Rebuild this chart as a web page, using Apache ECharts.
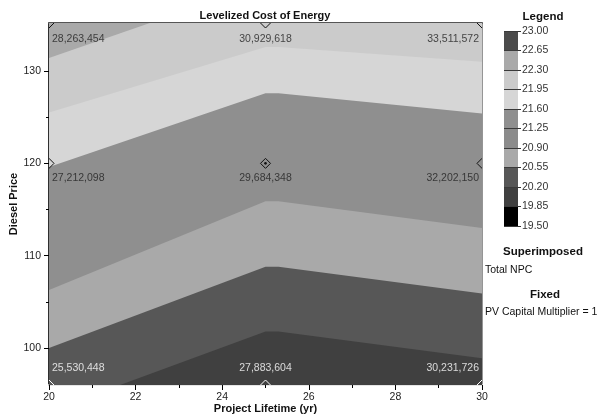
<!DOCTYPE html>
<html><head><meta charset="utf-8">
<script src="https://cdn.jsdelivr.net/npm/echarts@6/dist/echarts.min.js"></script>
<style>html,body{margin:0;padding:0;background:#fff}#c{width:603px;height:414px}</style>
</head><body><div id="c"></div>
<script>
const FONT = '"Liberation Sans", Arial, Helvetica, sans-serif';

// Sensitivity grid
const lifetimeYears = [20, 25, 30];
const dieselPrices = [96, 120, 135.2];
// Total NPC, rows follow dieselPrices (bottom -> top), columns follow lifetimeYears
const npcAt96 = [25530448, 27883604, 30231726];
const npcAt120 = [27212098, 29684348, 32202150];
const npcAt135 = [28263454, 30929618, 33511572];

// Axis ticks
const xTickLabels = [20, 22, 24, 26, 28, 30];
const yTickLabels = [100, 110, 120, 130];
const yMinorTicks = [105, 115, 125];

// Levelized cost of energy legend
const legendLevels = [19.5, 19.85, 20.2, 20.55, 20.9, 21.25, 21.6, 21.95, 22.3, 22.65, 23.0];
const legendColors = ['#000000', '#404040', '#575757', '#a9a9a9', '#8b8b8b', '#8f8f8f', '#d6d6d6', '#cbcbcb', '#a9a9a9', '#4b4b4b'];

// Contour boundaries: [lifetime, diesel price]
const contourTop = [[20, 135.2], [30, 135.2]];                                   // 22.30-22.65 region
const contour2230 = [[20, 131.4], [22.33, 135.2], [30, 135.2]];                  // below: 21.95-22.30
const contour2195 = [[20, 125.5], [25, 132.6], [25.3, 132.6], [30, 131.0]];      // below: 21.60-21.95
const contour2160 = [[20, 119.6], [25, 127.6], [25.3, 127.6], [30, 125.4]];      // below: 20.90-21.60
const contour2090 = [[20, 106.3], [25, 115.9], [25.3, 115.9], [30, 113.0]];      // below: 20.55-20.90
const contour2055 = [[20, 100.0], [25, 108.8], [25.3, 108.8], [30, 105.9]];      // below: 20.20-20.55
const contour2020 = [[21.64, 96], [25, 101.8], [25.3, 101.8], [30, 98.9]];       // below: 19.85-20.20

const contourBands = [
  { data: contourTop, band: 8 },
  { data: contour2230, band: 7 },
  { data: contour2195, band: 6 },
  { data: contour2160, band: 5 },
  { data: contour2090, band: 3 },
  { data: contour2055, band: 2 },
  { data: contour2020, band: 1 }
];

const npcRows = [npcAt96, npcAt120, npcAt135];

const markerData = [];
const labelData = [];
dieselPrices.forEach((p, r) => {
  lifetimeYears.forEach((yr, c) => {
    markerData.push([yr, p, r, c]);
    labelData.push({
      value: [yr, p],
      label: {
        formatter: npcRows[r][c].toLocaleString('en-US'),
        align: c === 0 ? 'left' : (c === 2 ? 'right' : 'center'),
        offset: [c === 0 ? 3 : (c === 2 ? -3 : 0), r === 0 ? -17 : (r === 1 ? 15 : 16)],
        color: r === 0 ? '#ffffff' : '#222222'
      }
    });
  });
});

const series = [];
contourBands.forEach(b => {
  series.push({
    type: 'line', xAxisIndex: 0, yAxisIndex: 0, data: b.data,
    symbol: 'none', showSymbol: false, silent: true, z: 1,
    lineStyle: { width: 0, opacity: 0 },
    areaStyle: { color: legendColors[b.band], opacity: 1, origin: 'start' }
  });
});
series.push({
  type: 'custom', xAxisIndex: 0, yAxisIndex: 0, clip: true, z: 5, silent: true,
  data: markerData,
  renderItem: function (params, api) {
    const pt = api.coord([api.value(0), api.value(1)]);
    const row = api.value(2), col = api.value(3);
    const stroke = row === 0 ? '#ffffff' : '#111111';
    const s = 5;
    const children = [{
      type: 'polygon',
      shape: { points: [[pt[0], pt[1] - s], [pt[0] + s, pt[1]], [pt[0], pt[1] + s], [pt[0] - s, pt[1]]] },
      style: { fill: 'none', stroke: stroke, lineWidth: 1 }
    }];
    if (row === 1 && col === 1) {
      children.push({ type: 'circle', shape: { cx: pt[0], cy: pt[1], r: 1.3 }, style: { fill: stroke } });
    }
    return { type: 'group', children: children };
  }
});
series.push({
  type: 'scatter', xAxisIndex: 0, yAxisIndex: 0, symbolSize: 1, z: 6, silent: true,
  itemStyle: { color: 'rgba(0,0,0,0)' },
  label: { show: true, position: 'inside', fontSize: 10.5, fontFamily: FONT },
  data: labelData
});
legendColors.forEach((c, i) => {
  series.push({
    type: 'bar', xAxisIndex: 2, yAxisIndex: 3, stack: 'legend', barWidth: '100%', silent: true,
    itemStyle: { color: c },
    data: [i === 0 ? legendLevels[1] : +(legendLevels[i + 1] - legendLevels[i]).toFixed(2)]
  });
});

const txt = (text, x, y, size, bold, align) => ({
  type: 'text', x: x, y: y, silent: true,
  style: {
    text: text, fill: '#111', font: (bold ? 'bold ' : '') + size + 'px ' + FONT,
    textAlign: align, align: align, textVerticalAlign: 'middle', verticalAlign: 'middle'
  }
});

const option = {
  animation: false,
  backgroundColor: '#ffffff',
  grid: [
    { left: 49, top: 23, width: 433, height: 362, show: true, borderColor: '#777', borderWidth: 1, backgroundColor: 'transparent', containLabel: false, outerBoundsMode: 'none' },
    { left: 504, top: 31, width: 14, height: 195, containLabel: false, outerBoundsMode: 'none' }
  ],
  xAxis: [
    {
      gridIndex: 0, type: 'value', min: 20, max: 30, interval: 2, position: 'bottom',
      axisLine: { show: true, lineStyle: { color: '#e6e6e6', width: 2 } },
      axisTick: { show: true, length: 5, lineStyle: { color: '#000' } },
      minorTick: { show: true, splitNumber: 2, length: 3, lineStyle: { color: '#000' } },
      splitLine: { show: false },
      axisLabel: { fontSize: 10.5, color: '#222', margin: 7, fontFamily: FONT, customValues: xTickLabels },
      name: 'Project Lifetime (yr)', nameLocation: 'middle', nameGap: 18, nameMoveOverlap: false,
      nameTextStyle: { fontSize: 11, fontWeight: 'bold', color: '#111', fontFamily: FONT }
    },
    {
      gridIndex: 0, type: 'value', min: 20, max: 30, position: 'top',
      axisLine: { show: true, lineStyle: { color: '#555', width: 2 } },
      axisTick: { show: false }, axisLabel: { show: false }, splitLine: { show: false }
    },
    { gridIndex: 1, type: 'category', data: [''], show: false }
  ],
  yAxis: [
    {
      gridIndex: 0, type: 'value', min: 96, max: 135.2, position: 'left',
      axisLine: { show: true, lineStyle: { color: '#000', width: 1.5 } },
      axisTick: { show: true, length: 5, customValues: yTickLabels, lineStyle: { color: '#000' } },
      axisLabel: { customValues: yTickLabels, fontSize: 10.5, color: '#222', margin: 8, fontFamily: FONT },
      splitLine: { show: false },
      name: 'Diesel Price', nameLocation: 'middle', nameGap: 30, nameRotate: 90, nameMoveOverlap: false,
      nameTextStyle: { fontSize: 11, fontWeight: 'bold', color: '#111', fontFamily: FONT }
    },
    {
      gridIndex: 0, type: 'value', min: 96, max: 135.2, position: 'left',
      axisLine: { show: false },
      axisTick: { show: true, length: 3, customValues: yMinorTicks, lineStyle: { color: '#000' } },
      axisLabel: { show: false }, splitLine: { show: false }
    },
    {
      gridIndex: 0, type: 'value', min: 96, max: 135.2, position: 'right',
      axisLine: { show: true, lineStyle: { color: '#888', width: 1.5 } },
      axisTick: { show: false }, axisLabel: { show: false }, splitLine: { show: false }
    },
    {
      gridIndex: 1, type: 'value', min: 19.5, max: 23, position: 'right', z: 5,
      axisLine: { show: false },
      axisTick: { show: true, length: 3, customValues: legendLevels, lineStyle: { color: '#333' } },
      axisLabel: { customValues: legendLevels, formatter: v => v.toFixed(2), fontSize: 10.5, color: '#333', margin: 4, fontFamily: FONT },
      splitLine: { show: true, lineStyle: { color: '#3a3a3a', width: 1 } }
    }
  ],
  graphic: [
    txt('Levelized Cost of Energy', 265, 16, 11, true, 'center'),
    txt('Legend', 543, 17, 11.5, true, 'center'),
    txt('Superimposed', 543, 252, 11.5, true, 'center'),
    txt('Total NPC', 485, 270, 10.5, false, 'left'),
    txt('Fixed', 545, 295, 11.5, true, 'center'),
    txt('PV Capital Multiplier = 1', 485, 312, 10.5, false, 'left')
  ],
  series: series
};

const chart = echarts.init(document.getElementById('c'), null, { renderer: 'canvas' });
chart.setOption(option);
</script>
</body></html>
